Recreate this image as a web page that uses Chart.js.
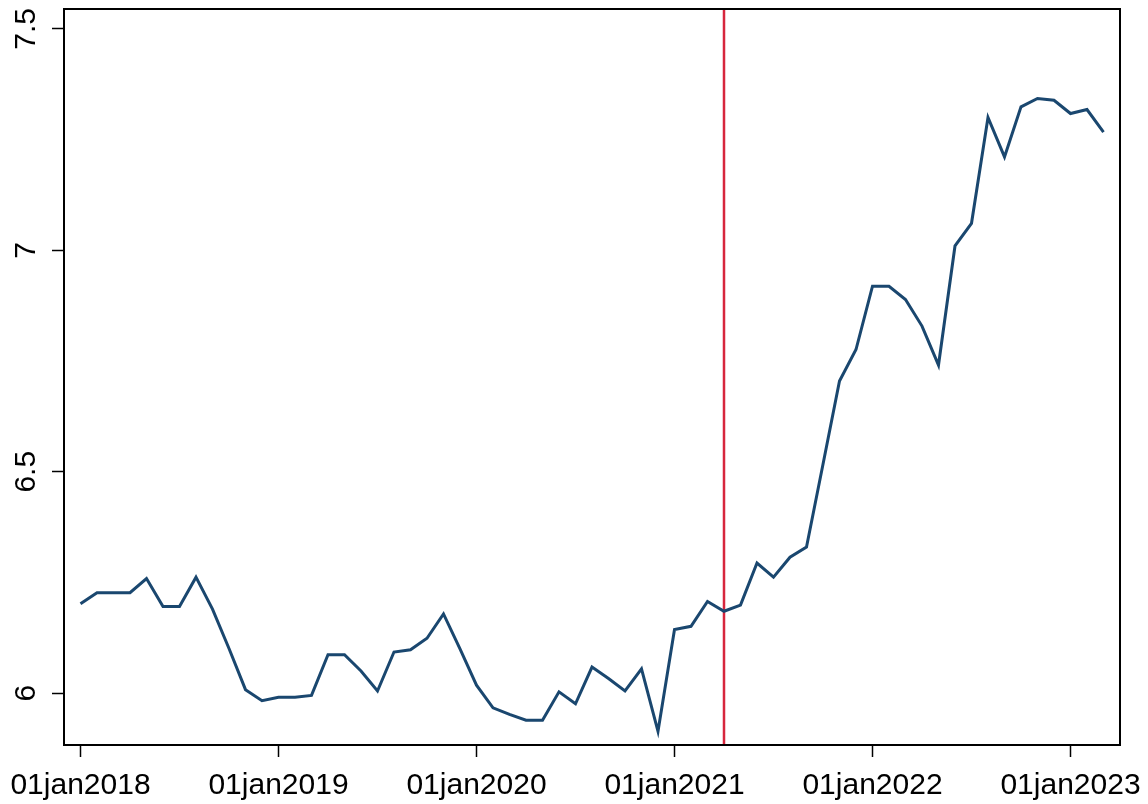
<!DOCTYPE html>
<html>
<head>
<meta charset="utf-8">
<script src="https://cdn.jsdelivr.net/npm/chart.js@4/dist/chart.umd.min.js"></script>
<style>
  html, body { margin: 0; padding: 0; background: #ffffff; }
  #wrap { width: 1148px; height: 804px; }
</style>
</head>
<body>
<div id="wrap"><canvas id="c" width="1148" height="804"></canvas></div>
<script>
// Categories: monthly observations Jan 2018 - Mar 2023
const months = [
  '2018-01','2018-02','2018-03','2018-04','2018-05','2018-06','2018-07','2018-08','2018-09','2018-10','2018-11','2018-12',
  '2019-01','2019-02','2019-03','2019-04','2019-05','2019-06','2019-07','2019-08','2019-09','2019-10','2019-11','2019-12',
  '2020-01','2020-02','2020-03','2020-04','2020-05','2020-06','2020-07','2020-08','2020-09','2020-10','2020-11','2020-12',
  '2021-01','2021-02','2021-03','2021-04','2021-05','2021-06','2021-07','2021-08','2021-09','2021-10','2021-11','2021-12',
  '2022-01','2022-02','2022-03','2022-04','2022-05','2022-06','2022-07','2022-08','2022-09','2022-10','2022-11','2022-12',
  '2023-01','2023-02','2023-03'
];
// Series values
const values = [
  6.202, 6.227, 6.227, 6.227, 6.259, 6.196, 6.196, 6.262, 6.190, 6.101, 6.008, 5.983,
  5.991, 5.991, 5.995, 6.087, 6.087, 6.050, 6.005, 6.093, 6.098, 6.124, 6.179, 6.100,
  6.018, 5.967, 5.952, 5.939, 5.939, 6.003, 5.976, 6.059, 6.033, 6.005, 6.055, 5.914,
  6.144, 6.151, 6.207, 6.185, 6.199, 6.294, 6.262, 6.307, 6.330, 6.517, 6.705, 6.776,
  6.919, 6.919, 6.889, 6.829, 6.741, 7.010, 7.061, 7.300, 7.211, 7.324, 7.343, 7.339,
  7.309, 7.318, 7.267
];
// Tick labels
const xTickMonths = ['2018-01','2019-01','2020-01','2021-01','2022-01','2023-01'];
const xTickLabels = ['01jan2018','01jan2019','01jan2020','01jan2021','01jan2022','01jan2023'];
const yTickValues = [6, 6.5, 7, 7.5];
const yTickLabels = ['6', '6.5', '7', '7.5'];
// Vertical reference line
const eventMonth = '2021-04';

const X_MIN = -1, X_MAX = 63;
const Y_MIN = 5.883, Y_MAX = 7.545;

const lineData = months.map((m, i) => ({ x: i, y: values[i] }));
const eventIdx = months.indexOf(eventMonth);
const refData = [{ x: eventIdx, y: Y_MIN }, { x: eventIdx, y: Y_MAX }];
const xTickPos = xTickMonths.map(m => months.indexOf(m));

const framePlugin = {
  id: 'frame',
  afterDatasetsDraw(chart) {
    const { ctx, chartArea: a } = chart;
    ctx.save();
    ctx.strokeStyle = '#000000';
    ctx.lineWidth = 2;
    ctx.strokeRect(a.left, a.top, a.right - a.left, a.bottom - a.top);
    ctx.restore();
  }
};

const FONT = { family: '"Liberation Sans", Arial, sans-serif', size: 30 };

new Chart(document.getElementById('c'), {
  type: 'line',
  data: {
    datasets: [
      {
        data: lineData,
        borderColor: '#1a476f',
        borderWidth: 3,
        pointRadius: 0,
        tension: 0,
        fill: false
      },
      {
        data: refData,
        borderColor: '#d7263d',
        borderWidth: 2.5,
        pointRadius: 0,
        tension: 0,
        fill: false
      }
    ]
  },
  options: {
    responsive: false,
    animation: false,
    devicePixelRatio: 1,
    layout: { padding: { top: 9, right: 28, left: 0, bottom: 0 } },
    plugins: { legend: { display: false }, tooltip: { enabled: false } },
    scales: {
      x: {
        type: 'linear',
        min: X_MIN,
        max: X_MAX,
        afterBuildTicks(scale) { scale.ticks = xTickPos.map(v => ({ value: v })); },
        afterFit(scale) { scale.height = 59; scale.paddingLeft = 0; scale.paddingRight = 0; },
        grid: { drawOnChartArea: false, drawTicks: true, tickLength: 12, tickColor: '#000', tickWidth: 1.5 },
        border: { display: false },
        ticks: {
          color: '#000',
          font: FONT,
          padding: 11,
          maxRotation: 0,
          minRotation: 0,
          autoSkip: false,
          callback(v) { const k = xTickPos.indexOf(v); return k >= 0 ? xTickLabels[k] : ''; }
        }
      },
      y: {
        type: 'linear',
        min: Y_MIN,
        max: Y_MAX,
        afterBuildTicks(scale) { scale.ticks = yTickValues.map(v => ({ value: v })); },
        afterFit(scale) { scale.width = 64; scale.paddingTop = 0; scale.paddingBottom = 0; },
        grid: { drawOnChartArea: false, drawTicks: true, tickLength: 12, tickColor: '#000', tickWidth: 1.5 },
        border: { display: false },
        ticks: {
          color: '#000',
          font: FONT,
          padding: 4,
          minRotation: 90,
          maxRotation: 90,
          crossAlign: 'center',
          autoSkip: false,
          callback(v) { const k = yTickValues.indexOf(v); return k >= 0 ? yTickLabels[k] : ''; }
        }
      }
    }
  },
  plugins: [framePlugin]
});
</script>
</body>
</html>
